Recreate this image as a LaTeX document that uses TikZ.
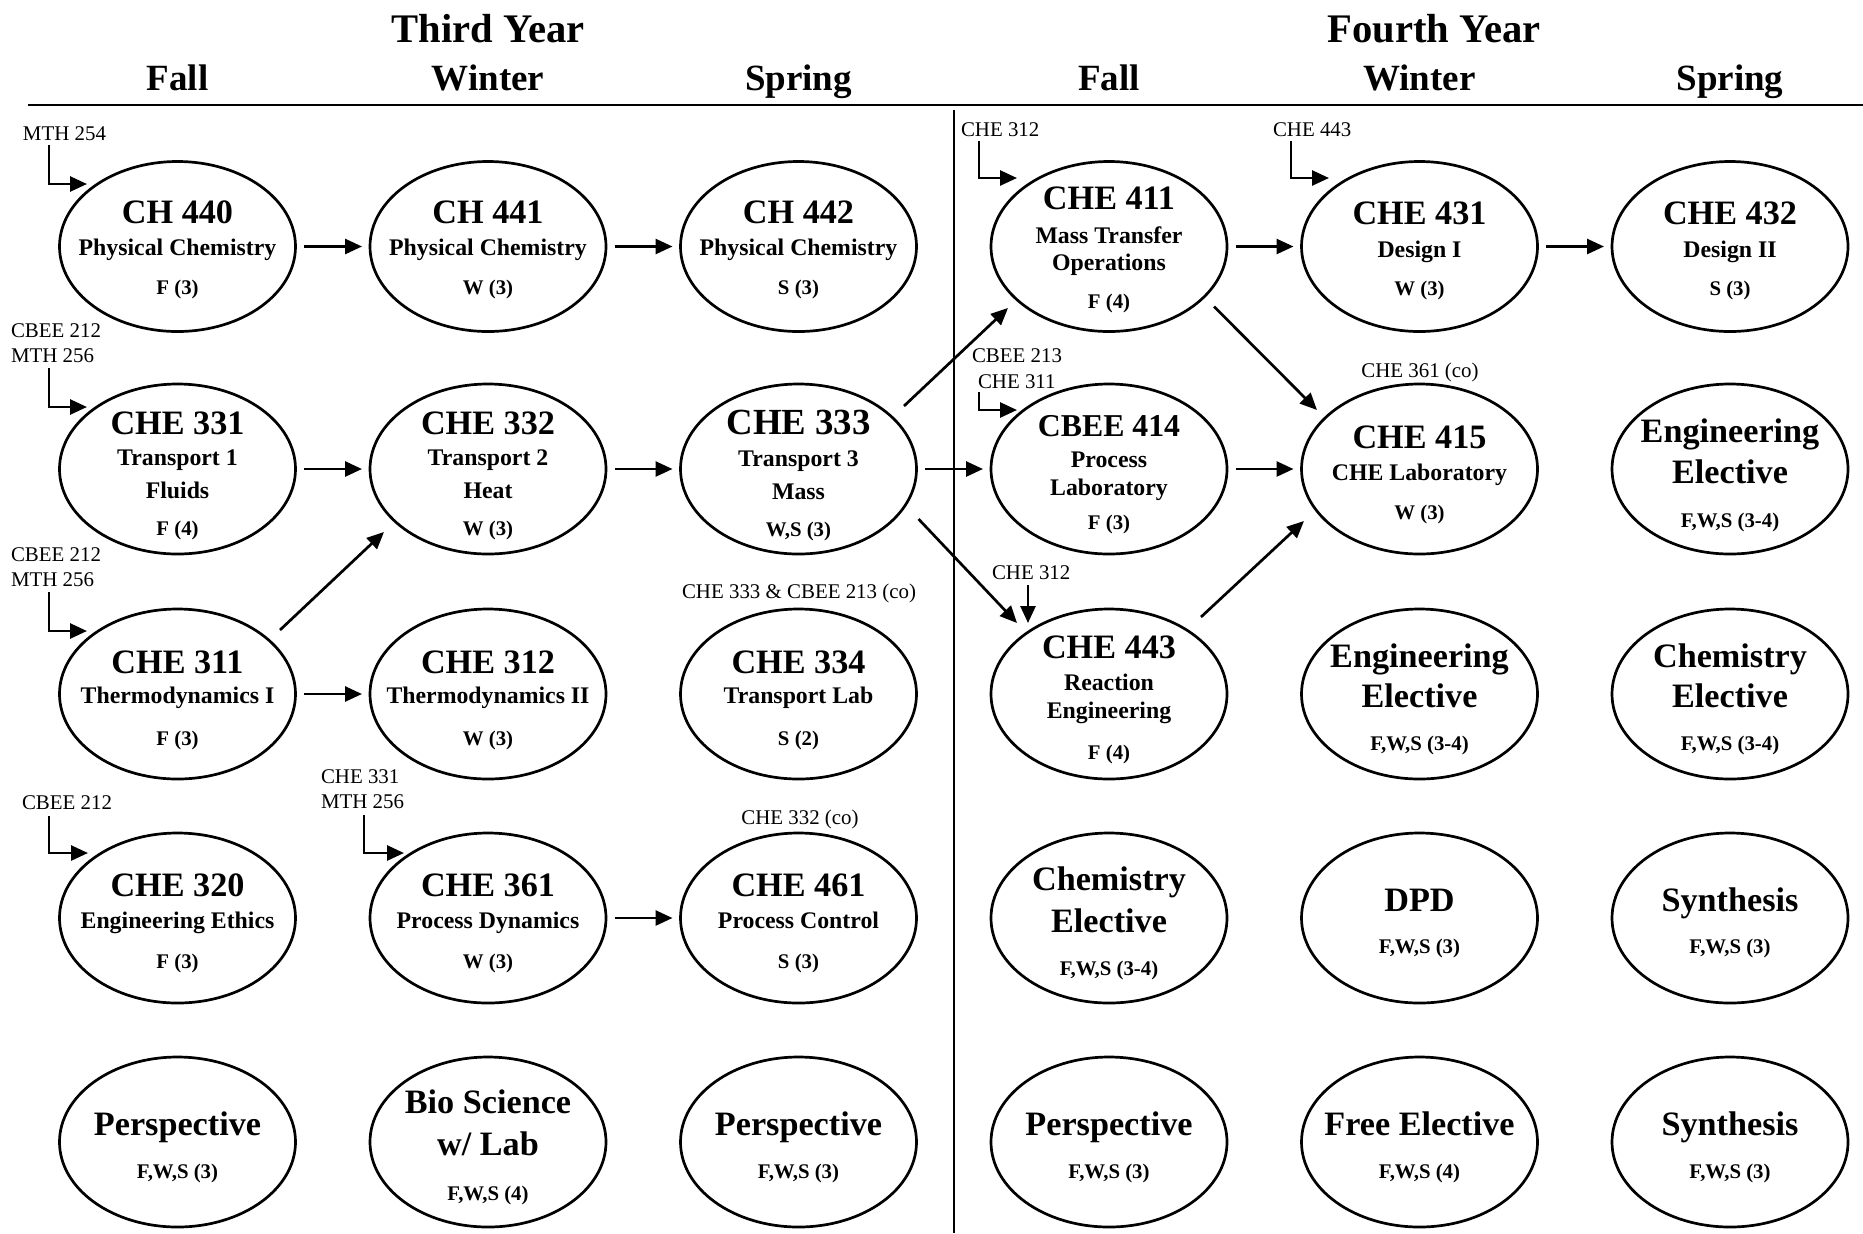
\documentclass[tikz,border=0pt]{standalone}
\usepackage{fontspec}
\setmainfont{Liberation Serif}
\usetikzlibrary{arrows.meta,calc,shapes.geometric}
\newcommand\crsln[5]{\node[#4, anchor=base] (#1) at ($(#2)+(0,#3)$) {#5};}
\begin{document}
\begin{tikzpicture}[x=0.5pt, y=-0.5pt,
  every node/.style={inner sep=0pt, outer sep=0pt},
  crs/.style={ellipse, draw, line width=1.35pt, minimum width=118pt, minimum height=85pt},
  yr/.style={font=\bfseries\fontsize{20.3pt}{24pt}\selectfont},
  term/.style={font=\bfseries\fontsize{18.5pt}{22pt}\selectfont},
  cd/.style={font=\bfseries\fontsize{17.1pt}{20pt}\selectfont},
  cdL/.style={font=\bfseries\fontsize{18.4pt}{22pt}\selectfont},
  cdS/.style={font=\bfseries\fontsize{15.9pt}{19pt}\selectfont},
  sub/.style={font=\bfseries\fontsize{11.9pt}{14pt}\selectfont},
  cr/.style={font=\bfseries\fontsize{10.4pt}{12pt}\selectfont},
  pre/.style={font=\fontsize{10.45pt}{12pt}\selectfont},
  arr/.style={line width=1.35pt, -{Triangle[length=8.5pt,width=7.5pt]}},
  harr/.style={arr, shorten <=4.25pt, shorten >=4pt},
  rule/.style={line width=1.4pt}
]
\useasboundingbox (0,0) rectangle (1863,1233);

% headers
\node[yr, anchor=base] (hy3) at (488,42) {Third Year};
\node[yr, anchor=base] (hy4) at (1434,42) {Fourth Year};
\node[term, anchor=base] (h1) at (177.5,90) {Fall};
\node[term, anchor=base] (h2) at (488,90) {Winter};
\node[term, anchor=base] (h3) at (798.5,90) {Spring};
\node[term, anchor=base] (h4) at (1109,90) {Fall};
\node[term, anchor=base] (h5) at (1419.5,90) {Winter};
\node[term, anchor=base] (h6) at (1730,90) {Spring};
\coordinate (rl) at (28,105);
\coordinate (rr) at (1863,105);
\draw[rule] (rl) -- (rr);
\coordinate (dt) at (954,110);
\coordinate (db) at (954,1233);
\draw[rule] (dt) -- (db);

% ---- column 1
\node[crs] (c440) at (177.5,246.5) {};
\crsln{c440a}{c440}{-23}{cd}{CH 440}
\crsln{c440b}{c440}{9}{sub}{Physical Chemistry}
\crsln{c440c}{c440}{48}{cr}{F (3)}

\node[crs] (c331) at (177.5,469) {};
\crsln{c331a}{c331}{-35}{cd}{CHE 331}
\crsln{c331b}{c331}{-4}{sub}{Transport 1}
\crsln{c331c}{c331}{29}{sub}{Fluids}
\crsln{c331d}{c331}{66}{cr}{F (4)}

\node[crs] (c311) at (177.5,694) {};
\crsln{c311a}{c311}{-21}{cd}{CHE 311}
\crsln{c311b}{c311}{9}{sub}{Thermodynamics I}
\crsln{c311c}{c311}{51}{cr}{F (3)}

\node[crs] (c320) at (177.5,918) {};
\crsln{c320a}{c320}{-22}{cd}{CHE 320}
\crsln{c320b}{c320}{10}{sub}{Engineering Ethics}
\crsln{c320c}{c320}{50}{cr}{F (3)}

\node[crs] (persA) at (177.5,1142) {};
\crsln{persAa}{persA}{-7}{cd}{Perspective}
\crsln{persAb}{persA}{36}{cr}{F,W,S (3)}

% ---- column 2
\node[crs] (c441) at (488,246.5) {};
\crsln{c441a}{c441}{-23}{cd}{CH 441}
\crsln{c441b}{c441}{9}{sub}{Physical Chemistry}
\crsln{c441c}{c441}{48}{cr}{W (3)}

\node[crs] (c332) at (488,469) {};
\crsln{c332a}{c332}{-35}{cd}{CHE 332}
\crsln{c332b}{c332}{-4}{sub}{Transport 2}
\crsln{c332c}{c332}{29}{sub}{Heat}
\crsln{c332d}{c332}{66}{cr}{W (3)}

\node[crs] (c312) at (488,694) {};
\crsln{c312a}{c312}{-21}{cd}{CHE 312}
\crsln{c312b}{c312}{9}{sub}{Thermodynamics II}
\crsln{c312c}{c312}{51}{cr}{W (3)}

\node[crs] (c361) at (488,918) {};
\crsln{c361a}{c361}{-22}{cd}{CHE 361}
\crsln{c361b}{c361}{10}{sub}{Process Dynamics}
\crsln{c361c}{c361}{50}{cr}{W (3)}

\node[crs] (bio) at (488,1142) {};
\crsln{bioa}{bio}{-29}{cd}{Bio Science}
\crsln{biob}{bio}{13}{cd}{w/ Lab}
\crsln{bioc}{bio}{58}{cr}{F,W,S (4)}

% ---- column 3
\node[crs] (c442) at (798.5,246.5) {};
\crsln{c442a}{c442}{-23}{cd}{CH 442}
\crsln{c442b}{c442}{9}{sub}{Physical Chemistry}
\crsln{c442c}{c442}{48}{cr}{S (3)}

\node[crs] (c333) at (798.5,469) {};
\crsln{c333a}{c333}{-35}{cdL}{CHE 333}
\crsln{c333b}{c333}{-3}{sub}{Transport 3}
\crsln{c333c}{c333}{30}{sub}{Mass}
\crsln{c333d}{c333}{67}{cr}{W,S (3)}

\node[crs] (c334) at (798.5,694) {};
\crsln{c334a}{c334}{-21}{cd}{CHE 334}
\crsln{c334b}{c334}{9}{sub}{Transport Lab}
\crsln{c334c}{c334}{51}{cr}{S (2)}

\node[crs] (c461) at (798.5,918) {};
\crsln{c461a}{c461}{-22}{cd}{CHE 461}
\crsln{c461b}{c461}{10}{sub}{Process Control}
\crsln{c461c}{c461}{50}{cr}{S (3)}

\node[crs] (persB) at (798.5,1142) {};
\crsln{persBa}{persB}{-7}{cd}{Perspective}
\crsln{persBb}{persB}{36}{cr}{F,W,S (3)}

% ---- column 4
\node[crs] (c411) at (1109,246.5) {};
\crsln{c411a}{c411}{-37.5}{cd}{CHE 411}
\crsln{c411b}{c411}{-3.5}{sub}{Mass Transfer}
\crsln{c411c}{c411}{23.5}{sub}{Operations}
\crsln{c411d}{c411}{61.5}{cr}{F (4)}

\node[crs] (cb414) at (1109,469) {};
\crsln{cb414a}{cb414}{-33}{cdS}{CBEE 414}
\crsln{cb414b}{cb414}{-2}{sub}{Process}
\crsln{cb414c}{cb414}{26}{sub}{Laboratory}
\crsln{cb414d}{cb414}{60}{cr}{F (3)}

\node[crs] (c443) at (1109,694) {};
\crsln{c443a}{c443}{-36}{cd}{CHE 443}
\crsln{c443b}{c443}{-4}{sub}{Reaction}
\crsln{c443c}{c443}{24}{sub}{Engineering}
\crsln{c443d}{c443}{65}{cr}{F (4)}

\node[crs] (chemA) at (1109,918) {};
\crsln{chemAa}{chemA}{-28}{cd}{Chemistry}
\crsln{chemAb}{chemA}{14}{cd}{Elective}
\crsln{chemAc}{chemA}{57}{cr}{F,W,S (3-4)}

\node[crs] (persC) at (1109,1142) {};
\crsln{persCa}{persC}{-7}{cd}{Perspective}
\crsln{persCb}{persC}{36}{cr}{F,W,S (3)}

% ---- column 5
\node[crs] (c431) at (1419.5,246.5) {};
\crsln{c431a}{c431}{-22}{cd}{CHE 431}
\crsln{c431b}{c431}{11}{sub}{Design I}
\crsln{c431c}{c431}{49}{cr}{W (3)}

\node[crs] (c415) at (1419.5,469) {};
\crsln{c415a}{c415}{-21}{cd}{CHE 415}
\crsln{c415b}{c415}{11}{sub}{CHE Laboratory}
\crsln{c415c}{c415}{50}{cr}{W (3)}

\node[crs] (engA) at (1419.5,694) {};
\crsln{engAa}{engA}{-27}{cd}{Engineering}
\crsln{engAb}{engA}{13}{cd}{Elective}
\crsln{engAc}{engA}{56}{cr}{F,W,S (3-4)}

\node[crs] (dpd) at (1419.5,918) {};
\crsln{dpda}{dpd}{-7}{cd}{DPD}
\crsln{dpdb}{dpd}{35}{cr}{F,W,S (3)}

\node[crs] (free) at (1419.5,1142) {};
\crsln{freea}{free}{-7}{cd}{Free Elective}
\crsln{freeb}{free}{36}{cr}{F,W,S (4)}

% ---- column 6
\node[crs] (c432) at (1730,246.5) {};
\crsln{c432a}{c432}{-22}{cd}{CHE 432}
\crsln{c432b}{c432}{11}{sub}{Design II}
\crsln{c432c}{c432}{49}{cr}{S (3)}

\node[crs] (engB) at (1730,469) {};
\crsln{engBa}{engB}{-27}{cd}{Engineering}
\crsln{engBb}{engB}{14}{cd}{Elective}
\crsln{engBc}{engB}{58}{cr}{F,W,S (3-4)}

\node[crs] (chemB) at (1730,694) {};
\crsln{chemBa}{chemB}{-27}{cd}{Chemistry}
\crsln{chemBb}{chemB}{13}{cd}{Elective}
\crsln{chemBc}{chemB}{56}{cr}{F,W,S (3-4)}

\node[crs] (synA) at (1730,918) {};
\crsln{synAa}{synA}{-7}{cd}{Synthesis}
\crsln{synAb}{synA}{35}{cr}{F,W,S (3)}

\node[crs] (synB) at (1730,1142) {};
\crsln{synBa}{synB}{-7}{cd}{Synthesis}
\crsln{synBb}{synB}{36}{cr}{F,W,S (3)}

% ---- prerequisite labels
\node[pre, anchor=base west] (pA) at (23,140) {MTH 254};
\node[pre, anchor=base west] (pB1) at (11,337) {CBEE 212};
\node[pre, anchor=base west] (pB2) at (11,362) {MTH 256};
\node[pre, anchor=base west] (pC1) at (11,561) {CBEE 212};
\node[pre, anchor=base west] (pC2) at (11,586) {MTH 256};
\node[pre, anchor=base west] (pD) at (22,809) {CBEE 212};
\node[pre, anchor=base west] (pE1) at (321,783) {CHE 331};
\node[pre, anchor=base west] (pE2) at (321,808) {MTH 256};
\node[pre, anchor=base west] (pF) at (961,136) {CHE 312};
\node[pre, anchor=base west] (pG) at (1273,136) {CHE 443};
\node[pre, anchor=base west] (pH1) at (972,362) {CBEE 213};
\node[pre, anchor=base west] (pH2) at (978,388) {CHE 311};
\node[pre, anchor=base west] (pI) at (992,579) {CHE 312};
\node[pre, anchor=base] (co334) at (799,598) {CHE 333 \& CBEE 213 (co)};
\node[pre, anchor=base] (co461) at (800,824) {CHE 332 (co)};
\node[pre, anchor=base] (co415) at (1420,377) {CHE 361 (co)};

% ---- prerequisite elbows
\draw[arr] ($(pA.base west)+(26,5)$) |- ($(c440)+(-90.5,-62.5)$);
\draw[arr] ($(pB2.base west)+(38,6)$) |- ($(c331)+(-90.5,-62)$);
\draw[arr] ($(pC2.base west)+(38,6)$) |- ($(c311)+(-90.5,-63)$);
\draw[arr] ($(pD.base west)+(27,7)$) |- ($(c320)+(-89.5,-65)$);
\draw[arr] ($(pE2.base west)+(43,7)$) |- ($(c361)+(-84,-65)$);
\draw[arr] ($(pF.base west)+(18,5)$) |- ($(c411)+(-92,-68.5)$);
\draw[arr] ($(pG.base west)+(18,5)$) |- ($(c431)+(-90.5,-68.5)$);
\draw[arr] ($(pH2.base west)+(1,4)$) |- ($(cb414)+(-92,-59)$);
\draw[arr] ($(pI.base west)+(36,6)$) -- ($(c443)+(-81,-71)$);

% ---- horizontal connectors
\draw[harr] (c440.east) -- (c441.west);
\draw[harr] (c441.east) -- (c442.west);
\draw[harr] (c331.east) -- (c332.west);
\draw[harr] (c332.east) -- (c333.west);
\draw[harr] (c311.east) -- (c312.west);
\draw[harr] (c361.east) -- (c461.west);
\draw[harr] (c333.east) -- (cb414.west);
\draw[harr] (c411.east) -- (c431.west);
\draw[harr] (c431.east) -- (c432.west);
\draw[harr] (cb414.east) -- (c415.west);

% ---- diagonal connectors
\draw[arr] ($(c311)+(102.5,-64)$) -- ($(c332)+(-104,63)$);
\draw[arr] ($(c333)+(105.5,-63)$) -- ($(c411)+(-101,61.5)$);
\draw[arr] ($(c333)+(120,50)$) -- ($(c443)+(-92,-71)$);
\draw[arr] ($(c411)+(105,60)$) -- ($(c415)+(-102.5,-59)$);
\draw[arr] ($(c443)+(92,-77)$) -- ($(c415)+(-115.5,52)$);
\end{tikzpicture}
\end{document}
